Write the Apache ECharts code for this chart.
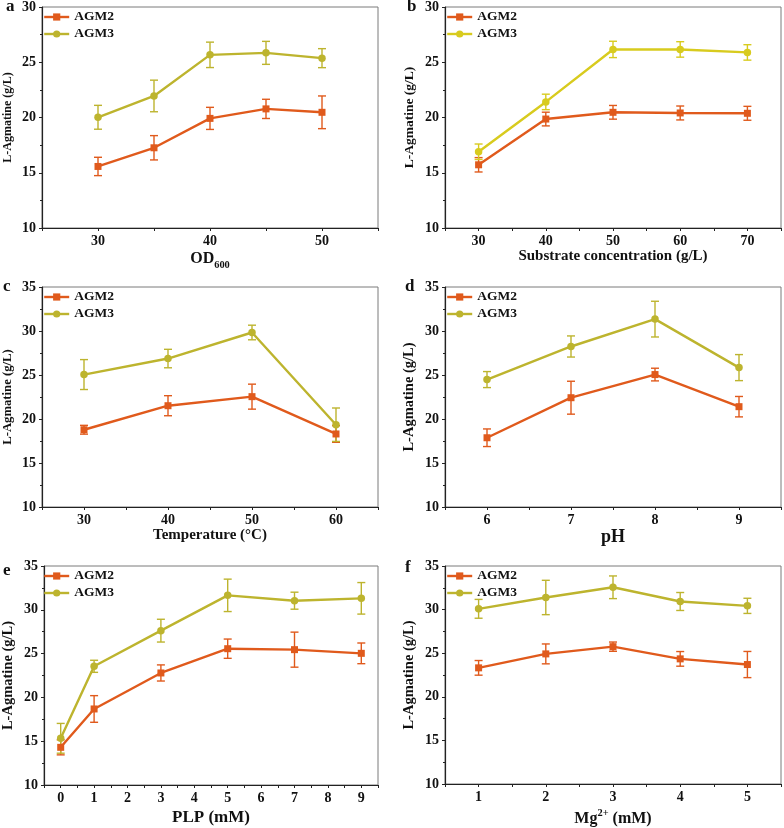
<!DOCTYPE html>
<html>
<head>
<meta charset="utf-8">
<script src="https://cdn.jsdelivr.net/npm/echarts@6/dist/echarts.min.js"></script>
<style>html,body{margin:0;padding:0;background:#fff}#c{width:784px;height:828px}</style>
</head>
<body>
<div id="c"></div>
<script>
// ---- data ----
const seriesNames = ['AGM2', 'AGM3'];

const xA = [30, 35, 40, 45, 50];
const agm2A = [15.57, 17.26, 19.92, 20.78, 20.47];
const agm2ErrA = [0.83, 1.1, 1.0, 0.87, 1.48];
const agm3A = [20.02, 21.95, 25.67, 25.85, 25.37];
const agm3ErrA = [1.08, 1.43, 1.15, 1.04, 0.86];
const xLabelsA = [30, 40, 50];

const xB = [30, 40, 50, 60, 70];
const agm2B = [15.72, 19.86, 20.47, 20.41, 20.38];
const agm2ErrB = [0.65, 0.62, 0.62, 0.63, 0.63];
const agm3B = [16.9, 21.41, 26.16, 26.16, 25.89];
const agm3ErrB = [0.7, 0.7, 0.74, 0.7, 0.7];
const xLabelsB = [30, 40, 50, 60, 70];

const xC = [30, 40, 50, 60];
const agm2C = [18.78, 21.51, 22.54, 18.3];
const agm2ErrC = [0.5, 1.14, 1.42, 0.95];
const agm3C = [25.05, 26.87, 29.83, 19.35];
const agm3ErrC = [1.7, 1.05, 0.83, 1.9];
const xLabelsC = [30, 40, 50, 60];

const xD = [6, 7, 8, 9];
const agm2D = [17.87, 22.42, 25.05, 21.4];
const agm2ErrD = [1.0, 1.87, 0.72, 1.16];
const agm3D = [24.48, 28.24, 31.35, 25.84];
const agm3ErrD = [0.91, 1.2, 2.03, 1.48];
const xLabelsD = [6, 7, 8, 9];

const xE = [0, 1, 3, 5, 7, 9];
const agm2E = [14.3, 18.68, 22.79, 25.56, 25.45, 25.03];
const agm2ErrE = [0.86, 1.52, 0.92, 1.1, 2.0, 1.18];
const agm3E = [15.33, 23.55, 27.62, 31.65, 31.04, 31.31];
const agm3ErrE = [1.7, 0.69, 1.3, 1.85, 0.97, 1.8];
const xLabelsE = [0, 1, 2, 3, 4, 5, 6, 7, 8, 9];

const xF = [1, 2, 3, 4, 5];
const agm2F = [23.32, 24.92, 25.75, 24.35, 23.7];
const agm2ErrF = [0.84, 1.14, 0.53, 0.84, 1.5];
const agm3F = [30.09, 31.39, 32.56, 30.93, 30.43];
const agm3ErrF = [1.08, 1.97, 1.3, 1.03, 0.87];
const xLabelsF = [1, 2, 3, 4, 5];

const yLabelsAB = [10, 15, 20, 25, 30];
const yLabelsCF = [10, 15, 20, 25, 30, 35];

const xTitles = ['{m|OD}{s|600}', 'Substrate concentration (g/L)', 'Temperature (°C)', 'pH', 'PLP (mM)', '{m|Mg}{p|2+}{m| (mM)}'];
const yTitle = 'L-Agmatine (g/L)';
const panelLetters = ['a', 'b', 'c', 'd', 'e', 'f'];

// ---- styling / layout ----
const FONT = '"Liberation Serif", "Times New Roman", serif';
const ORANGE = '#E05A1C';
const OLIVE = '#BDB42E';
const YELLOW = '#D8CB1E';

const panels = [
  {x: xA, s2: agm2A, e2: agm2ErrA, s3: agm3A, e3: agm3ErrA, xl: xLabelsA, yl: yLabelsAB, xmin: 25, xmax: 55, xint: 5, ymax: 30,
   grid: {left: 42, top: 7, width: 336, height: 221}, c3: OLIVE, xtSize: 16, ytSize: 12, xGap: 20, leg: {left: 43, top: 10}},
  {x: xB, s2: agm2B, e2: agm2ErrB, s3: agm3B, e3: agm3ErrB, xl: xLabelsB, yl: yLabelsAB, xmin: 25, xmax: 75, xint: 5, ymax: 30,
   grid: {left: 445, top: 7, width: 337, height: 221}, c3: YELLOW, xtSize: 15, ytSize: 13.5, xGap: 19, leg: {left: 446, top: 10}},
  {x: xC, s2: agm2C, e2: agm2ErrC, s3: agm3C, e3: agm3ErrC, xl: xLabelsC, yl: yLabelsCF, xmin: 25, xmax: 65, xint: 5, ymax: 35,
   grid: {left: 42, top: 287, width: 336, height: 220}, c3: OLIVE, xtSize: 15, ytSize: 12.7, xGap: 19, leg: {left: 43, top: 290}},
  {x: xD, s2: agm2D, e2: agm2ErrD, s3: agm3D, e3: agm3ErrD, xl: xLabelsD, yl: yLabelsCF, xmin: 5.5, xmax: 9.5, xint: 0.5, ymax: 35,
   grid: {left: 445, top: 287, width: 337, height: 220}, c3: OLIVE, xtSize: 18, ytSize: 14.5, xGap: 17, leg: {left: 446, top: 290}},
  {x: xE, s2: agm2E, e2: agm2ErrE, s3: agm3E, e3: agm3ErrE, xl: xLabelsE, yl: yLabelsCF, xmin: -0.5, xmax: 9.5, xint: 0.5, ymax: 35,
   grid: {left: 42, top: 566, width: 336, height: 219}, c3: OLIVE, xtSize: 17, ytSize: 14.5, xGap: 24, leg: {left: 43, top: 569}},
  {x: xF, s2: agm2F, e2: agm2ErrF, s3: agm3F, e3: agm3ErrF, xl: xLabelsF, yl: yLabelsCF, xmin: 0.5, xmax: 5.5, xint: 0.5, ymax: 35,
   grid: {left: 445, top: 566, width: 337, height: 219}, c3: OLIVE, xtSize: 16, ytSize: 14.5, xGap: 24, leg: {left: 446, top: 569}}
];
const letterPos = [[6, 7], [407, 7], [3, 287], [405, 287], [3, 571], [405, 568]];

function errSeries(idx, xs, ys, errs, color) {
  return {
    type: 'custom', name: 'err', xAxisIndex: idx, yAxisIndex: idx, z: 1, silent: true,
    data: xs.map((x, i) => [x, ys[i] - errs[i], ys[i] + errs[i]]),
    encode: {x: 0, y: [1, 2]},
    renderItem: function (params, api) {
      const x = api.value(0);
      const lo = api.coord([x, api.value(1)]);
      const hi = api.coord([x, api.value(2)]);
      const w = 4;
      const st = {stroke: color, lineWidth: 1.4};
      return {type: 'group', children: [
        {type: 'line', shape: {x1: lo[0], y1: lo[1], x2: hi[0], y2: hi[1]}, style: st},
        {type: 'line', shape: {x1: lo[0] - w, y1: lo[1], x2: lo[0] + w, y2: lo[1]}, style: st},
        {type: 'line', shape: {x1: hi[0] - w, y1: hi[1], x2: hi[0] + w, y2: hi[1]}, style: st}
      ]};
    }
  };
}

const grids = [], xAxes = [], yAxes = [], series = [], legends = [], graphics = [];
panels.forEach((p, i) => {
  grids.push(Object.assign({show: true, borderColor: '#7a7a7a', borderWidth: 1, backgroundColor: 'transparent'}, p.grid));
  xAxes.push({
    type: 'value', gridIndex: i, min: p.xmin, max: p.xmax, interval: p.xint,
    name: xTitles[i], nameLocation: 'middle', nameGap: p.xGap,
    nameTextStyle: {fontFamily: FONT, fontWeight: 'bold', fontSize: p.xtSize, color: '#111',
      rich: {
        m: {fontFamily: FONT, fontWeight: 'bold', fontSize: p.xtSize, color: '#111', lineHeight: 22, verticalAlign: 'middle'},
        s: {fontFamily: FONT, fontWeight: 'bold', fontSize: p.xtSize * 0.65, color: '#111', lineHeight: 22, verticalAlign: 'bottom'},
        p: {fontFamily: FONT, fontWeight: 'bold', fontSize: p.xtSize * 0.65, color: '#111', lineHeight: 22, verticalAlign: 'top'}
      }},
    axisLine: {show: true, onZero: false, lineStyle: {color: '#222', width: 1.2}},
    axisTick: {show: true, inside: false, length: 3, lineStyle: {color: '#222'}},
    splitLine: {show: false},
    axisLabel: {fontFamily: FONT, fontWeight: 'bold', fontSize: 14, color: '#111', margin: 6,
      formatter: (v) => p.xl.some(l => Math.abs(l - v) < 1e-6) ? String(Math.round(v)) : ''}
  });
  yAxes.push({
    type: 'value', gridIndex: i, min: 10, max: p.ymax, interval: 5,
    name: yTitle, nameLocation: 'middle', nameGap: 28,
    nameTextStyle: {fontFamily: FONT, fontWeight: 'bold', fontSize: p.ytSize, color: '#111'},
    axisLine: {show: true, onZero: false, lineStyle: {color: '#222', width: 1.2}},
    axisTick: {show: true, inside: false, length: 3, lineStyle: {color: '#222'}},
    minorTick: {show: true, splitNumber: 2, length: 2, lineStyle: {color: '#222'}},
    splitLine: {show: false},
    axisLabel: {fontFamily: FONT, fontWeight: 'bold', fontSize: 14, color: '#111', margin: 6,
      formatter: (v) => p.yl.includes(v) ? String(v) : ''}
  });
  series.push(errSeries(i, p.x, p.s2, p.e2, ORANGE));
  series.push(errSeries(i, p.x, p.s3, p.e3, p.c3));
  series.push({
    type: 'line', name: seriesNames[0], xAxisIndex: i, yAxisIndex: i, z: 3,
    data: p.x.map((x, k) => [x, p.s2[k]]),
    symbol: 'rect', symbolSize: 7, lineStyle: {color: ORANGE, width: 2.4}, itemStyle: {color: ORANGE}
  });
  series.push({
    type: 'line', name: seriesNames[1], xAxisIndex: i, yAxisIndex: i, z: 3,
    data: p.x.map((x, k) => [x, p.s3[k]]),
    symbol: 'circle', symbolSize: 7.5, lineStyle: {color: p.c3, width: 2.4}, itemStyle: {color: p.c3}
  });
  legends.push({
    orient: 'vertical', left: p.leg.left, top: p.leg.top, padding: 0, itemGap: 3,
    itemWidth: 25, itemHeight: 9, selectedMode: false,
    textStyle: {fontFamily: FONT, fontWeight: 'bold', fontSize: 13.5, color: '#111'},
    data: [
      {name: seriesNames[0], itemStyle: {color: ORANGE}, lineStyle: {color: ORANGE, width: 2.4}},
      {name: seriesNames[1], itemStyle: {color: p.c3}, lineStyle: {color: p.c3, width: 2.4}}
    ]
  });
  graphics.push({
    type: 'text', left: letterPos[i][0], top: letterPos[i][1] - 9,
    style: {text: panelLetters[i], font: 'bold 17px ' + FONT, fill: '#111'}
  });
});

const chart = echarts.init(document.getElementById('c'), null, {renderer: 'canvas'});
chart.setOption({
  animation: false,
  backgroundColor: '#fff',
  grid: grids, xAxis: xAxes, yAxis: yAxes, series: series, legend: legends, graphic: graphics
});
</script>
</body>
</html>
